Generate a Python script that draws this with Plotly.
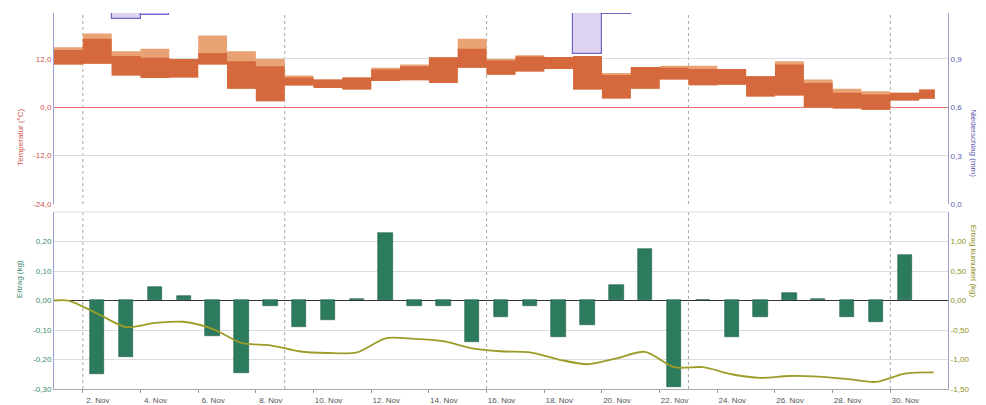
import pandas as pd
import plotly.graph_objects as go

# ---------------- data ----------------
temp_days = pd.date_range("2023-11-01", periods=31, freq="D")
temp_end = pd.Timestamp("2023-12-01 13:00")
temp_min = [10.6, 10.8, 7.9, 7.3, 7.4, 10.6, 4.6, 1.5, 5.4, 4.8, 4.4, 6.5, 6.7, 6.0, 9.8, 8.1,
            8.9, 9.5, 4.4, 2.2, 4.6, 6.9, 5.5, 5.6, 2.7, 2.9, -0.1, -0.3, -0.6, 1.7, 2.1]
temp_max = [14.9, 18.3, 13.9, 14.5, 12.0, 17.8, 13.9, 12.0, 7.9, 6.9, 7.4, 9.8, 10.6, 12.4, 17.0, 12.0,
            12.9, 12.5, 12.7, 8.5, 10.0, 10.3, 10.3, 9.5, 7.7, 11.4, 6.9, 4.6, 4.0, 3.6, 4.4]
temp_mid = [14.2, 17.0, 12.7, 12.3, 12.0, 13.5, 11.4, 10.2, 7.4, 6.9, 7.4, 9.4, 10.2, 12.4, 14.5, 11.6,
            12.6, 12.5, 12.7, 8.0, 10.0, 9.8, 9.5, 9.5, 7.7, 10.6, 6.0, 3.6, 3.2, 3.6, 4.4]

precip_days = pd.to_datetime(["2023-11-03 12:00", "2023-11-04 12:00", "2023-11-19 12:00", "2023-11-20 12:00"])
precip_mm = [0.04, 0.012, 0.255, 0.005]

yield_days = pd.date_range("2023-11-02 12:00", periods=29, freq="D")
yield_kg = [-0.25, -0.19, 0.045, 0.015, -0.12, -0.245, -0.02, -0.09, -0.065, 0.005, 0.23, -0.02, -0.02,
            -0.14, -0.055, -0.02, -0.125, -0.083, 0.054, 0.175, -0.293, 0.0, -0.124, -0.055, 0.026,
            0.004, -0.055, -0.072, 0.153]

cum_times = [pd.Timestamp("2023-11-01 00:00")] + list(pd.date_range("2023-11-01 12:00", periods=31, freq="D"))
cum_kg = [0.0, 0.0, -0.22, -0.45, -0.38, -0.36, -0.48, -0.72, -0.76, -0.86, -0.89, -0.88, -0.64, -0.65,
          -0.69, -0.81, -0.86, -0.88, -1.00, -1.08, -0.98, -0.87, -1.13, -1.13, -1.25, -1.31, -1.28,
          -1.29, -1.33, -1.38, -1.24, -1.22]

x_ticks = pd.date_range("2023-11-02", "2023-11-30", freq="2D")
week_lines = pd.date_range("2023-11-02", "2023-11-30", freq="7D")
temp_ticks = [-24, -12, 0, 12]
temp_ticktext = ["-24,0", "-12,0", "0,0", "12,0"]
precip_ticks = [0.0, 0.3, 0.6, 0.9]
precip_ticktext = ["0,0", "0,3", "0,6", "0,9"]
yield_ticks = [-0.3, -0.2, -0.1, 0.0, 0.1, 0.2]
yield_ticktext = ["-0,30", "-0,20", "-0,10", "0,00", "0,10", "0,20"]
cum_ticks = [-1.5, -1.0, -0.5, 0.0, 0.5, 1.0]
cum_ticktext = ["-1,50", "-1,00", "-0,50", "0,00", "0,50", "1,00"]

# ---------------- figure ----------------
FONT = "Liberation Sans, Arial, sans-serif"
RED = "#d0524c"
BLUE = "#5a58b0"
GREEN = "#3a8a6c"
OLIVE = "#8f8f25"
AXIS = "#9aa0d0"

step_x = list(temp_days) + [temp_end]
def stepy(v):
    return list(v) + [v[-1]]

fig = go.Figure()

# precipitation (hanging from top)
fig.add_trace(go.Bar(x=precip_days, y=precip_mm, yaxis="y5", width=86400000,
                     marker=dict(color="#ddd2f2", line=dict(color="#7464c4", width=1.2)),
                     showlegend=False))

# temperature bands
fig.add_trace(go.Scatter(x=step_x, y=stepy(temp_min), mode="lines", line=dict(shape="hv", width=0),
                         showlegend=False, hoverinfo="skip"))
fig.add_trace(go.Scatter(x=step_x, y=stepy(temp_max), mode="lines", line=dict(shape="hv", width=0),
                         fill="tonexty", fillcolor="#e8a274", showlegend=False))
fig.add_trace(go.Scatter(x=step_x, y=stepy(temp_min), mode="lines", line=dict(shape="hv", width=0),
                         showlegend=False, hoverinfo="skip"))
fig.add_trace(go.Scatter(x=step_x, y=stepy(temp_mid), mode="lines", line=dict(shape="hv", width=0),
                         fill="tonexty", fillcolor="#d5693d", showlegend=False))
# dummy trace for right axis of top panel
fig.add_trace(go.Scatter(x=[], y=[], yaxis="y2", showlegend=False))

# yield bars
fig.add_trace(go.Bar(x=yield_days, y=yield_kg, yaxis="y3", width=0.5 * 86400000,
                     marker=dict(color="#2d7b5d", line=dict(color="#1f5e46", width=0.6)),
                     showlegend=False))
# cumulative
fig.add_trace(go.Scatter(x=cum_times, y=cum_kg, yaxis="y4", mode="lines",
                         line=dict(color="#9c9c28", width=1.8, shape="spline", smoothing=0.8),
                         showlegend=False))

TOP = [0.492, 1.0]
BOT = [0.0, 0.4707]

fig.update_layout(
    width=978, height=397,
    margin=dict(l=46, r=38, t=5, b=16, autoexpand=False),
    plot_bgcolor="white", paper_bgcolor="white",
    font=dict(family=FONT, size=8, color="#555"),
    bargap=0, barmode="overlay",
    xaxis=dict(type="date", range=["2023-11-01", "2023-12-02"], anchor="y3",
               tickvals=x_ticks, tickformat="%-d. %b",
               ticks="outside", ticklen=3, tickcolor="#999", ticklabelshift=15,
               showgrid=False, showline=True, linecolor="#aaa", zeroline=False,
               tickfont=dict(size=8, color="#555"), automargin=False),
    yaxis=dict(domain=TOP, anchor="x", range=[-24, 23.4], tickvals=temp_ticks, ticktext=temp_ticktext,
               tickfont=dict(color=RED, size=8), showgrid=True, gridcolor="#dcdcdc",
               zeroline=True, zerolinecolor="#e07070", zerolinewidth=1,
               showline=True, linecolor=AXIS, ticks="", automargin=False),
    yaxis2=dict(overlaying="y", side="right", anchor="x", range=[0, 1.186], tickvals=precip_ticks,
                ticktext=precip_ticktext, tickfont=dict(color=BLUE, size=8), showgrid=False,
                zeroline=False, showline=True, linecolor=AXIS, ticks="", automargin=False),
    yaxis5=dict(overlaying="y", anchor="x", range=[1.186, 0], visible=False),
    yaxis3=dict(domain=BOT, anchor="x", range=[-0.3, 0.3], tickvals=yield_ticks, ticktext=yield_ticktext,
                tickfont=dict(color=GREEN, size=8), showgrid=True, gridcolor="#dcdcdc",
                zeroline=True, zerolinecolor="#333", zerolinewidth=1.3,
                showline=True, linecolor=AXIS, ticks="", automargin=False),
    yaxis4=dict(overlaying="y3", side="right", anchor="x", range=[-1.5, 1.5], tickvals=cum_ticks,
                ticktext=cum_ticktext, tickfont=dict(color=OLIVE, size=8), showgrid=False,
                zeroline=False, showline=True, linecolor=AXIS, ticks="", automargin=False),
)

# weekly dotted vertical gridlines
for d in week_lines:
    for yr in ("y domain", "y3 domain"):
        fig.add_shape(type="line", xref="x", yref=yr, x0=d, x1=d, y0=0, y1=1,
                      line=dict(color="#a8a8a8", width=1, dash="dot"), layer="below")

# top border line of bottom panel
fig.add_shape(type="line", xref="paper", yref="y3 domain", x0=0, x1=1, y0=1, y1=1,
              line=dict(color="#dcdcdc", width=1), layer="below")

# axis titles
fig.add_annotation(text="Temperatur (°C)", xref="paper", yref="paper", x=-0.045, y=0.75,
                   textangle=-90, showarrow=False, font=dict(color=RED, size=8))
fig.add_annotation(text="Niederschlag (mm)", xref="paper", yref="paper", x=1.036, y=0.75,
                   textangle=90, showarrow=False, font=dict(color=BLUE, size=8))
fig.add_annotation(text="Ertrag (kg)", xref="paper", yref="paper", x=-0.045, y=0.237,
                   textangle=-90, showarrow=False, font=dict(color=GREEN, size=8))
fig.add_annotation(text="Ertrag kumuliert (kg)", xref="paper", yref="paper", x=1.036, y=0.237,
                   textangle=90, showarrow=False, font=dict(color=OLIVE, size=8))

fig.write_html("out.html")
